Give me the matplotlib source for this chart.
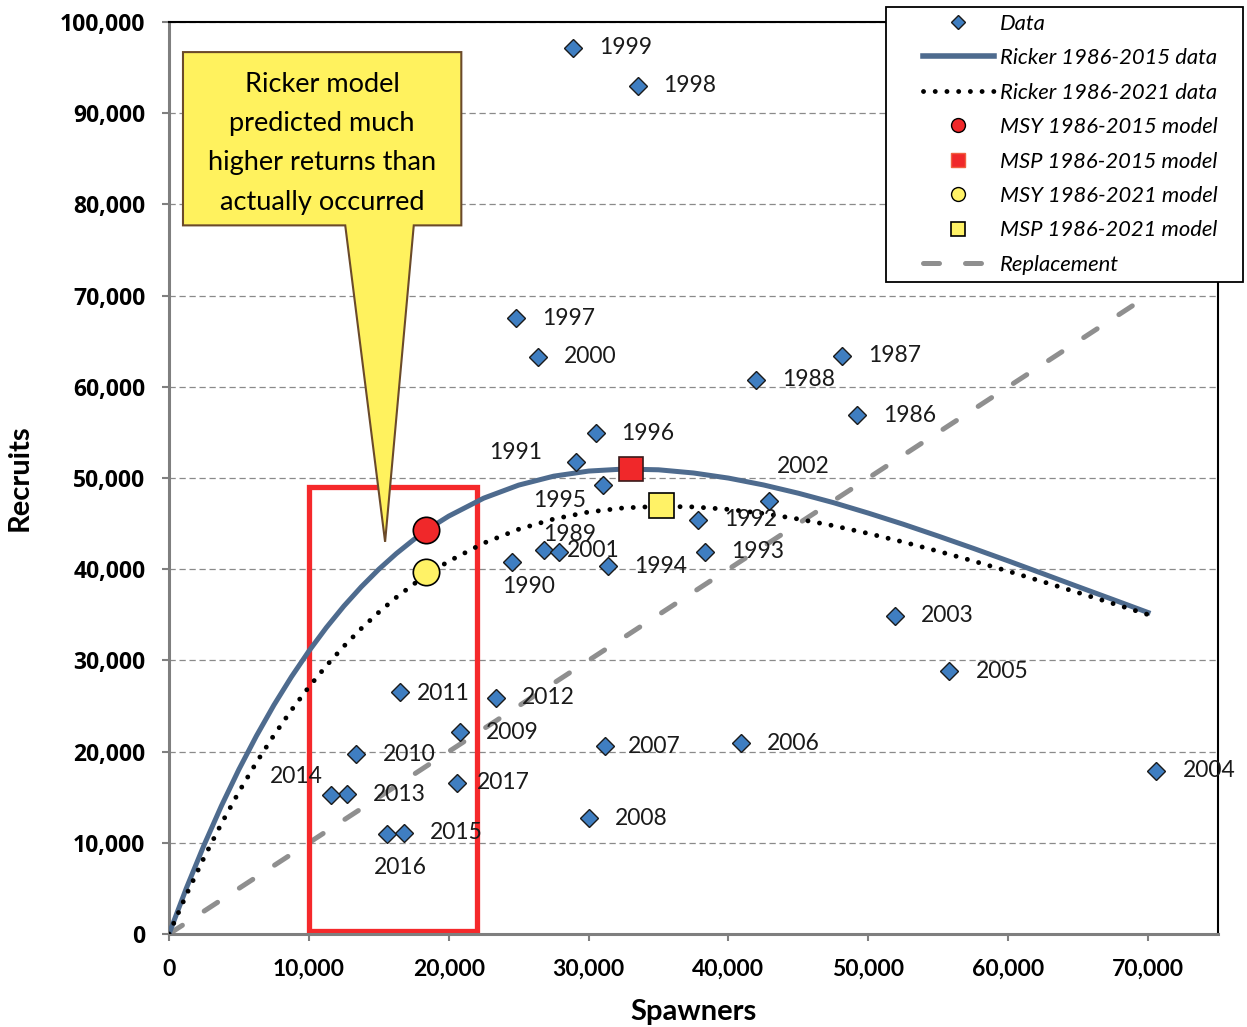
import matplotlib.pyplot as plt
from matplotlib.lines import Line2D
from matplotlib.legend_handler import HandlerLine2D
from matplotlib.patches import Rectangle, Polygon
from matplotlib.ticker import StrMethodFormatter
from matplotlib.font_manager import FontProperties

# brood years with spawners / recruits
years = [1986, 1987, 1988, 1989, 1990, 1991, 1992, 1993, 1994, 1995, 1996,
         1997, 1998, 1999, 2000, 2001, 2002, 2003, 2004, 2005, 2006, 2007,
         2008, 2009, 2010, 2011, 2012, 2013, 2014, 2015, 2016, 2017]
spawners = [49200, 48100, 42000, 26800, 24500, 29100, 37800, 38300, 31400, 31000, 30500,
            24800, 33500, 28900, 26400, 27900, 42900, 51900, 70600, 55800, 40900, 31200,
            30000, 20800, 13400, 16500, 23400, 12700, 11600, 16800, 15600, 20600]
recruits = [56900, 63400, 60800, 42100, 40800, 51800, 45400, 41900, 40300, 49200, 54900,
            67500, 93000, 97200, 63300, 41900, 47500, 34900, 17900, 28800, 20900, 20600,
            12700, 22100, 19700, 26500, 25900, 15300, 15200, 11100, 11000, 16600]

# model curves
curve_s = [0, 1250, 2500, 3750, 5000, 6250, 7500, 8750, 10000, 11250, 12500, 13750,
           15000, 16250, 17500, 18750, 20000, 22500, 25000, 27500, 30000, 32500, 35000,
           37500, 40000, 42500, 45000, 47500, 50000, 52500, 55000, 57500, 60000, 62500,
           65000, 67500, 70000]
ricker_2015 = [0, 5060, 9730, 14060, 18050, 21720, 25100, 28190, 31020, 33600, 35950, 38070,
               39990, 41710, 43250, 44620, 45820, 47790, 49220, 50200, 50760, 50980, 50900,
               50550, 49990, 49240, 48330, 47300, 46150, 44930, 43630, 42290, 40910, 39500,
               38080, 36670, 35250]
ricker_2021 = [0, 4330, 8360, 12110, 15590, 18810, 21790, 24540, 27080, 29410, 31550, 33500,
               35280, 36910, 38370, 39690, 40870, 42860, 44380, 45500, 46270, 46720, 46890,
               46830, 46560, 46110, 45500, 44770, 43920, 42980, 41970, 40900, 39780, 38620,
               37430, 36230, 35020]
repl_s = [0, 70000]
repl_r = [0, 70000]

msy_2015 = (18400, 44300)
msp_2015 = (33000, 51000)
msy_2021 = (18400, 39700)
msp_2021 = (35200, 47000)

# highlight box and callout (data units)
box_s = (10000, 22000)
box_r = (300, 49000)
callout_s = (1000, 20900)
callout_r = (77700, 96700)
pointer_base = (12600, 17500)
pointer_tip = (15450, 43000)
callout_text = "Ricker model\npredicted much\nhigher returns than\nactually occurred"

# label offsets in pixels (dx, dy, ha); default is to the right
label_off = {1991: (-34, 9, "right"), 1995: (-16, -15, "right"), 1989: (-1, 16, "left"),
             2001: (8, 1, "left"), 1990: (-10, -25, "left"), 2002: (8, 34, "left"),
             2014: (-8, 19, "right"), 2016: (13, -34, "center"), 2011: (17, -1, "left"),
             2017: (20, 0, "left"), 2007: (22, 0, "left")}

blue = "#4E6B8E"
diamond = "#3F7EC1"
red = "#F0282A"
yellow = "#FFF266"
grey = "#8F8F8F"

fig = plt.figure(figsize=(12.47, 10.27), dpi=100)
ax = fig.add_axes([169/1247, 93/1027, 1049/1247, 912/1027])

ax.plot(repl_s, repl_r, color=grey, lw=3.6, ls=(0, (3.2, 5.2)), dash_capstyle="round", zorder=2)
ax.add_patch(Rectangle((box_s[0], box_r[0]), box_s[1]-box_s[0], box_r[1]-box_r[0],
                       fill=False, ec="#F5292B", lw=3.8, zorder=2.5))
ax.plot(curve_s, ricker_2015, color=blue, lw=3.6, zorder=3)
ax.plot(curve_s, ricker_2021, color="black", lw=3.5, ls=(0, (0.01, 2.4)),
        dash_capstyle="round", zorder=3)

poly = [(callout_s[0], callout_r[1]), (callout_s[1], callout_r[1]), (callout_s[1], callout_r[0]),
        (pointer_base[1], callout_r[0]), pointer_tip, (pointer_base[0], callout_r[0]),
        (callout_s[0], callout_r[0])]
ax.add_patch(Polygon(poly, closed=True, fc="#FFF25E", ec="#6B4A2A", lw=1.5, zorder=3.5))
ax.text(sum(callout_s)/2, 86700, callout_text, ha="center", va="center", family="Lato",
        fontsize=19.5, linespacing=1.72, zorder=3.6)

ax.plot(spawners, recruits, ls="none", marker="D", ms=9.5, mfc=diamond, mec="#1A1A1A",
        mew=1, zorder=4)
ax.plot(*msy_2015, marker="o", ms=19, mfc=red, mec="black", mew=1.2, zorder=5)
ax.plot(*msy_2021, marker="o", ms=19, mfc=yellow, mec="black", mew=1.2, zorder=5)
ax.plot(*msp_2015, marker="s", ms=17.5, mfc=red, mec="#3A1A1A", mew=1.2, zorder=5)
ax.plot(*msp_2021, marker="s", ms=18, mfc=yellow, mec="black", mew=1.2, zorder=5)

for yr, s, r in zip(years, spawners, recruits):
    dx, dy, ha = label_off.get(yr, (26, 0, "left"))
    ax.annotate(str(yr), (s, r), xytext=(dx, dy), textcoords="offset pixels", ha=ha,
                va="center", family="Lato", fontsize=16.5, color="#1A1A1A", zorder=6)

ax.set_xlim(0, 75000)
ax.set_ylim(0, 100000)
ax.set_xticks([0, 10000, 20000, 30000, 40000, 50000, 60000, 70000])
ax.set_yticks(range(0, 100001, 10000))
ax.xaxis.set_major_formatter(StrMethodFormatter("{x:,.0f}"))
ax.yaxis.set_major_formatter(StrMethodFormatter("{x:,.0f}"))
ax.yaxis.grid(True, ls=(0, (5, 3)), color="#8A8A8A", lw=0.9, zorder=0.5)
ax.set_axisbelow(True)

ax.tick_params(axis="x", length=5, width=1.5, color="#7F7F7F", pad=13)
ax.tick_params(axis="y", length=5, width=1.5, color="#7F7F7F", pad=12)
for lbl in ax.get_xticklabels():
    lbl.set_fontproperties(FontProperties(family="Lato", weight="bold", size=16.5))
for lbl in ax.get_yticklabels():
    lbl.set_fontproperties(FontProperties(family="Open Sans", weight="bold", size=16.5))

for side in ["left", "bottom"]:
    ax.spines[side].set_color("#7F7F7F")
    ax.spines[side].set_linewidth(2.2)
for side in ["top", "right"]:
    ax.spines[side].set_color("black")
    ax.spines[side].set_linewidth(1.5)

ax.set_xlabel("Spawners", family="Lato", weight="bold", fontsize=21, labelpad=14)
ax.set_ylabel("Recruits", family="Lato", weight="bold", fontsize=21, va="center")
ax.yaxis.set_label_coords(-0.142, 0.5)

handles = [
    Line2D([], [], ls="none", marker="D", ms=7.5, mfc=diamond, mec="#1A1A1A", mew=1),
    Line2D([], [], color=blue, lw=4),
    Line2D([], [], color="black", lw=3.5, ls=(0, (0.01, 2.4)), dash_capstyle="round"),
    Line2D([], [], ls="none", marker="o", ms=10, mfc=red, mec="black", mew=1),
    Line2D([], [], ls="none", marker="s", ms=10, mfc=red, mec="#F06040", mew=1),
    Line2D([], [], ls="none", marker="o", ms=10, mfc=yellow, mec="black", mew=1),
    Line2D([], [], ls="none", marker="s", ms=10, mfc=yellow, mec="black", mew=1.2),
    Line2D([], [], color=grey, lw=3.6, ls=(0, (3.2, 5.2)), dash_capstyle="round"),
]
labels = ["Data", "Ricker 1986-2015 data", "Ricker 1986-2021 data", "MSY 1986-2015 model",
          "MSP 1986-2015 model", "MSY 1986-2021 model", "MSP 1986-2021 model", "Replacement"]
leg = ax.legend(handles, labels, loc="upper left",
                bbox_to_anchor=(886/1247, 1 - 7/1027 - 0.3, 357/1247, 0.3),
                bbox_transform=fig.transFigure, mode="expand", borderaxespad=0,
                borderpad=0.3, handlelength=4.6, handletextpad=0.3, labelspacing=0.66,
                prop=FontProperties(family="Lato", style="italic", size=15.8),
                fancybox=False, edgecolor="black", framealpha=1, numpoints=1,
                handler_map={Line2D: HandlerLine2D(xpad=1.4)})
leg.get_frame().set_linewidth(1.3)
leg.set_zorder(10)

fig.savefig("out.png", dpi=100)
